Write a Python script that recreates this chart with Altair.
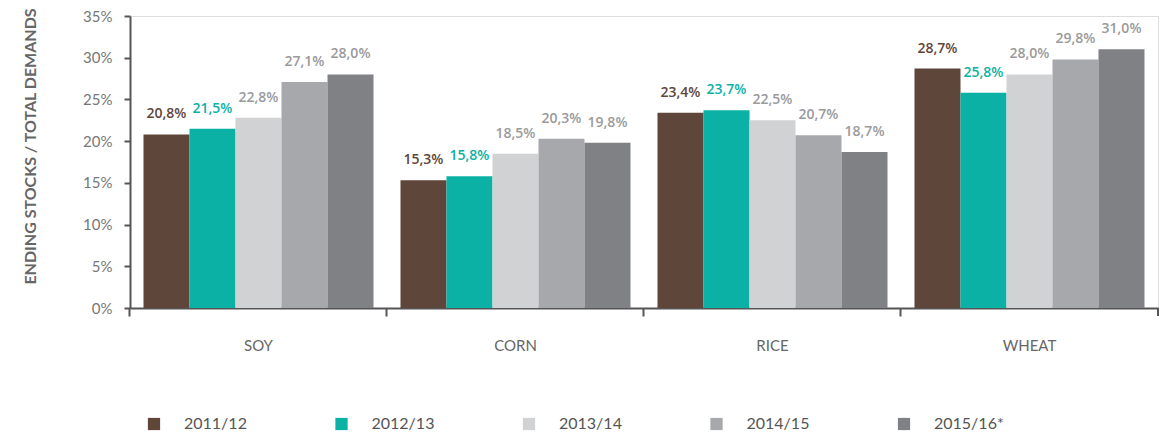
import altair as alt
import pandas as pd

categories = ["SOY", "CORN", "RICE", "WHEAT"]
seasons = ["2011/12", "2012/13", "2013/14", "2014/15", "2015/16*"]
colors = ["#5e463a", "#0bb1a5", "#d1d2d4", "#a7a8ab", "#808184"]
label_colors = ["#5e463a", "#0bb1a5", "#9a9a9c", "#9a9a9c", "#9a9a9c"]

soy = [20.8, 21.5, 22.8, 27.1, 28.0]
corn = [15.3, 15.8, 18.5, 20.3, 19.8]
rice = [23.4, 23.7, 22.5, 20.7, 18.7]
wheat = [28.7, 25.8, 28.0, 29.8, 31.0]
series_by_cat = {"SOY": soy, "CORN": corn, "RICE": rice, "WHEAT": wheat}

rows = []
for c in categories:
    for i, s in enumerate(seasons):
        v = series_by_cat[c][i]
        rows.append({
            "category": c,
            "season": s,
            "value": v,
            "label": f"{v:.1f}".replace(".", ",") + "%",
            "lcolor": label_colors[i],
        })
df = pd.DataFrame(rows)

x = alt.X("category:N", sort=categories, title=None,
          scale=alt.Scale(paddingInner=0.105, paddingOuter=0.0525),
          axis=alt.Axis(labelAngle=0, labelPadding=22, labelFontSize=15,
                        labelColor="#666666", labelFont="Lato",
                        domainColor="#555555", domainWidth=2,
                        tickColor="#555555", tickWidth=2, tickSize=8,
                        bandPosition=-0.0587, grid=False))
xo = alt.XOffset("season:N", sort=seasons)
y = alt.Y("value:Q", title="ENDING STOCKS / TOTAL DEMANDS",
          scale=alt.Scale(domain=[0, 35]),
          axis=alt.Axis(values=[0, 5, 10, 15, 20, 25, 30, 35],
                        labelExpr="datum.value + '%'", labelFontSize=15,
                        labelColor="#777777", labelFont="Lato", labelPadding=12,
                        domainColor="#555555", domainWidth=2,
                        tickColor="#555555", tickWidth=2, tickSize=6,
                        grid=False, titleFontSize=16, titleFontWeight="bold",
                        titleColor="#666666", titleFont="Lato", titlePadding=44,
                        titleY=130))

base = alt.Chart(df)

bars = base.mark_bar().encode(
    x=x, xOffset=xo, y=y,
    color=alt.Color("season:N", sort=seasons,
                    scale=alt.Scale(domain=seasons, range=colors),
                    legend=alt.Legend(title=None, orient="none", direction="horizontal",
                                      legendX=16, legendY=400, columns=5,
                                      symbolType="square", symbolSize=150,
                                      symbolStrokeWidth=0, symbolOpacity=1,
                                      labelFontSize=16, labelColor="#555555",
                                      labelFont="Lato", labelOffset=22,
                                      columnPadding=86.5)),
)

labels = base.mark_text(baseline="bottom", dy=-13, fontSize=14, fontWeight=600,
                        font="Open Sans").encode(
    x=x, xOffset=xo, y=y,
    text="label:N",
    color=alt.Color("lcolor:N", scale=None),
)

end_tick = alt.Chart(pd.DataFrame({"a": [0]})).mark_rule(
    color="#555555", strokeWidth=2).encode(
    x=alt.value(1028), y=alt.value(292), y2=alt.value(300))

chart = alt.layer(bars, labels, end_tick).properties(
    width=1028, height=292,
    autosize=alt.AutoSizeParams(type="none"),
    padding={"left": 122, "top": 8, "right": 8, "bottom": 126}
).configure_view(stroke=None).configure(font="Lato")

chart.save("out.html", embed_options={"renderer": "svg", "actions": False})
